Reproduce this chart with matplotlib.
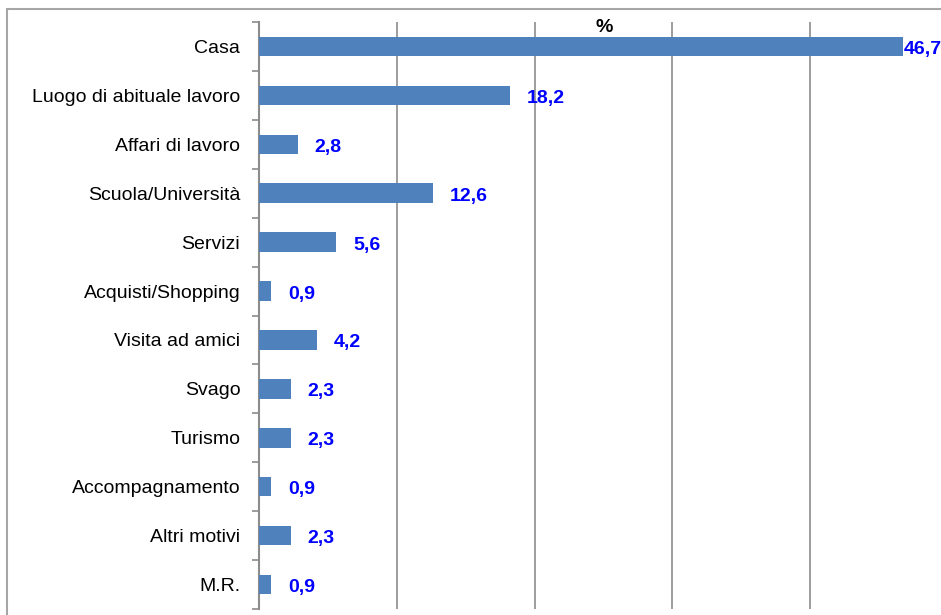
import numpy as np
import matplotlib.pyplot as plt
from matplotlib.patches import Rectangle

plt.rcParams['font.family'] = ['Liberation Sans', 'DejaVu Sans']

motivi = ["Casa", "Luogo di abituale lavoro", "Affari di lavoro", "Scuola/Università",
          "Servizi", "Acquisti/Shopping", "Visita ad amici", "Svago", "Turismo",
          "Accompagnamento", "Altri motivi", "M.R."]
percentuali = [46.7, 18.2, 2.8, 12.6, 5.6, 0.9, 4.2, 2.3, 2.3, 0.9, 2.3, 0.9]

W, H = 941, 615
fig = plt.figure(figsize=(W / 100, H / 100), dpi=100)
ax = fig.add_axes([259 / W, 1 - 609 / H, (948 - 259) / W, (609 - 22) / H])

y = np.arange(len(motivi))
ax.barh(y, percentuali, height=0.4, color="#4F81BD", zorder=3)

ax.set_xlim(0, 50)
ax.set_ylim(len(motivi) - 0.5, -0.5)

# vertical gridlines every 10%, no tick labels on x
ax.set_xticks(np.arange(10, 51, 10))
ax.xaxis.grid(True, color="#8c8c8c", linewidth=1.2, zorder=0)
ax.tick_params(axis="x", length=0, labelbottom=False)

# category labels, ticks between categories
ax.set_yticks(y)
ax.set_yticklabels(motivi, fontsize=14)
ax.set_yticks(np.arange(-0.5, len(motivi), 1), minor=True)
ax.tick_params(axis="y", which="major", length=0, pad=13.5)
ax.tick_params(axis="y", which="minor", length=5, width=1.2, color="#8c8c8c")

for side in ["top", "right", "bottom"]:
    ax.spines[side].set_visible(False)
ax.spines["left"].set_color("#8c8c8c")
ax.spines["left"].set_linewidth(1.5)

# value labels
for yi, v in zip(y, percentuali):
    off = 1 if v > 40 else 17
    ax.annotate(f"{v:.1f}".replace(".", ","), (v, yi), xytext=(off, -3),
                textcoords="offset pixels",
                ha="left", va="center", fontsize=14, fontweight="bold",
                color="#0000FF", annotation_clip=False)

fig.text(604 / W, 1 - 28 / H, "%", ha="center", va="center",
         fontsize=14, fontweight="bold")

# outer chart frame
fig.add_artist(Rectangle((7 / W, -0.1), 1.2, 1 - 9 / H + 0.1, transform=fig.transFigure,
                         fill=False, edgecolor="#a6a6a6", linewidth=1.5))

fig.savefig("out.png", dpi=100)
